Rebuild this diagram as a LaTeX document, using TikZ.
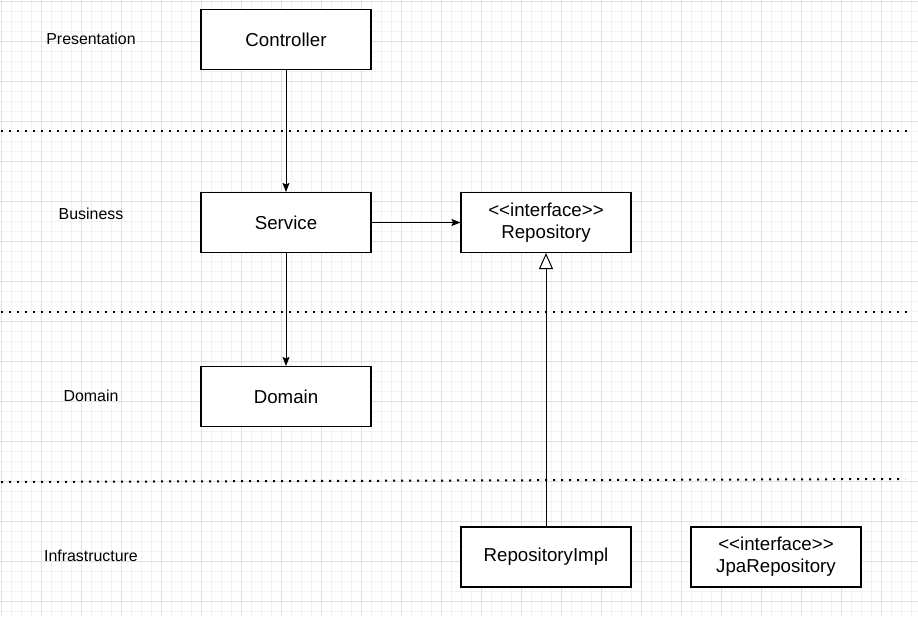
\documentclass[tikz,border=0pt]{standalone}
\usepackage{fontspec}
\setmainfont{Liberation Sans}
\usetikzlibrary{arrows.meta}
\definecolor{gridminor}{HTML}{F2F2F2}
\definecolor{gridmajor}{HTML}{E0E0E0}
\tikzset{
  box/.style={draw=black, line width=1.1pt, fill=white, minimum width=170pt, minimum height=60pt, inner sep=0pt, align=center, font=\fontsize{18.7}{22}\selectfont},
  layerlabel/.style={font=\fontsize{15.9}{19}\selectfont, inner sep=0pt},
  sep/.style={line width=2pt, dash pattern=on 2pt off 6pt},
  conn/.style={line width=1pt, -{Stealth[length=9pt, width=7pt, inset=1.5pt]}},
  realize/.style={line width=1pt, -{Triangle[open, length=16pt, width=14pt, fill=white]}}
}
\begin{document}
\begin{tikzpicture}[x=1pt, y=-1pt]
\useasboundingbox (0,0) rectangle (918,616);
\fill[white] (0,0) rectangle (918,616);
\foreach \i in {0,...,91} { \draw[gridminor, line width=0.8pt] ({1+10*\i},0) -- ({1+10*\i},616); }
\foreach \i in {0,...,61} { \draw[gridminor, line width=0.8pt] (0,{1+10*\i}) -- (918,{1+10*\i}); }
\foreach \i in {0,...,22} { \draw[gridmajor, line width=0.9pt] ({1+40*\i},0) -- ({1+40*\i},616); }
\foreach \i in {0,...,15} { \draw[gridmajor, line width=0.9pt] (0,{1+40*\i}) -- (918,{1+40*\i}); }

\coordinate (s1a) at (1,131); \coordinate (s1b) at (908,131);
\coordinate (s2a) at (1,312); \coordinate (s2b) at (912,312);
\coordinate (s3a) at (1,482); \coordinate (s3b) at (905,479);
\draw[sep] (s1a) -- (s1b);
\draw[sep] (s2a) -- (s2b);
\draw[sep] (s3a) -- (s3b);

\node[layerlabel] (lp) at (91,39) {Presentation};
\node[layerlabel] (lb) at (91,214) {Business};
\node[layerlabel] (ld) at (91,396) {Domain};
\node[layerlabel] (li) at (91,556) {Infrastructure};

\node[box] (ctrl) at (286,39.5) {Controller};
\node[box] (svc) at (286,222.5) {Service};
\node[box] (repo) at (546,222.5) {<{}<interface>{}>\\Repository};
\node[box] (dom) at (286,396.5) {Domain};
\node[box] (impl) at (546,557) {RepositoryImpl};
\node[box] (jpa) at (776,557) {<{}<interface>{}>\\JpaRepository};

\draw[conn] (ctrl) -- (svc);
\draw[conn] (svc) -- (repo);
\draw[conn] (svc) -- (dom);
\draw[realize] (impl) -- (repo);
\end{tikzpicture}
\end{document}
